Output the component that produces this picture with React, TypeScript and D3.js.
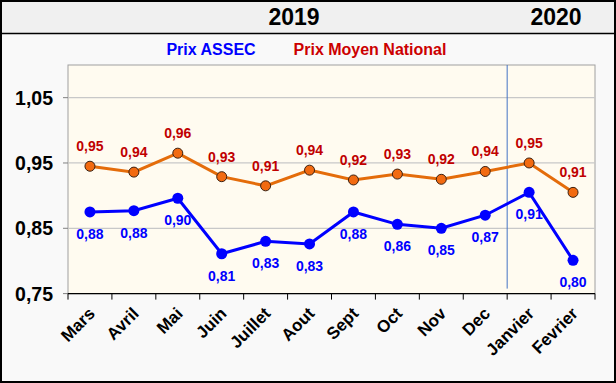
import React from "react";
import * as d3 from "d3";

const months = ["Mars", "Avril", "Mai", "Juin", "Juillet", "Aout", "Sept", "Oct", "Nov", "Dec", "Janvier", "Fevrier"];
const assec = [0.875, 0.877, 0.896, 0.811, 0.83, 0.826, 0.875, 0.856, 0.85, 0.87, 0.905, 0.801];
const assecLabels = ["0,88", "0,88", "0,90", "0,81", "0,83", "0,83", "0,88", "0,86", "0,85", "0,87", "0,91", "0,80"];
const national = [0.945, 0.936, 0.965, 0.929, 0.915, 0.939, 0.924, 0.933, 0.925, 0.937, 0.95, 0.905];
const nationalLabels = ["0,95", "0,94", "0,96", "0,93", "0,91", "0,94", "0,92", "0,93", "0,92", "0,94", "0,95", "0,91"];
const yTicks = [0.75, 0.85, 0.95, 1.05];
const yTickLabels = ["0,75", "0,85", "0,95", "1,05"];
const years = ["2019", "2020"];

export default function App() {
  const W = 616, H = 383;
  const left = 68, right = 595, top = 65, bottom = 293.6;
  const x = d3.scaleBand<string>().domain(months).range([left, right]);
  const y = d3.scaleLinear().domain([0.75, 1.1]).range([bottom, top]);
  const cx = (m: string) => (x(m) as number) + x.bandwidth() / 2;
  const line = d3.line<number>().x((_, i) => cx(months[i])).y((d) => y(d));
  const font = "Arial, 'Liberation Sans', sans-serif";
  const sepX = x("Janvier") as number;

  return (
    <svg width={W} height={H} style={{ position: "absolute", left: 0, top: 0 }} fontFamily={font}>
      <rect x={0} y={0} width={W} height={H} fill="#f9f9f9" />
      <rect x={0} y={0} width={W} height={33} fill="#f0f0f0" />
      <line x1={0} x2={W} y1={33.5} y2={33.5} stroke="#000" strokeWidth={1.5} />
      <rect x={1} y={1} width={W - 2} height={H - 2} fill="none" stroke="#000" strokeWidth={2} />
      <text x={294} y={25} textAnchor="middle" fontSize={23} fontWeight="bold">{years[0]}</text>
      <text x={556} y={25} textAnchor="middle" fontSize={23} fontWeight="bold">{years[1]}</text>

      <text x={211} y={55} textAnchor="middle" fontSize={16} fontWeight="bold" fill="#0000ff">Prix ASSEC</text>
      <text x={370} y={55} textAnchor="middle" fontSize={16} fontWeight="bold" fill="#cc0000">Prix Moyen National</text>

      <rect x={left} y={top} width={right - left} height={bottom - top} fill="#fffbf0" stroke="#a0a0a0" strokeWidth={1} />
      {yTicks.slice(1).map((t) => (
        <line key={t} x1={left} x2={right} y1={y(t)} y2={y(t)} stroke="#c8c8c8" strokeWidth={1.2} />
      ))}
      {yTicks.map((t, i) => (
        <g key={"yl" + t}>
          <line x1={left - 5} x2={left} y1={y(t)} y2={y(t)} stroke="#808080" />
          <text x={53} y={y(t) + 7} textAnchor="end" fontSize={19.5} fontWeight="bold">{yTickLabels[i]}</text>
        </g>
      ))}
      <line x1={sepX} x2={sepX} y1={top} y2={bottom - 5} stroke="#4472c4" strokeWidth={1} />
      <line x1={left} x2={right} y1={bottom} y2={bottom} stroke="#000" strokeWidth={1.2} />
      {months.concat([""]).map((m, i) => {
        const xx = left + i * x.bandwidth();
        return <line key={"t" + i} x1={xx} x2={xx} y1={bottom} y2={bottom + 6} stroke="#000" />;
      })}
      {months.map((m) => (
        <text key={"xl" + m} transform={`translate(${cx(m) + 6},${bottom + 21}) rotate(-45)`} textAnchor="end" fontSize={17} fontWeight="bold">{m}</text>
      ))}

      <path d={line(national) || ""} fill="none" stroke="#e46c0a" strokeWidth={3} />
      {national.map((v, i) => (
        <circle key={"n" + i} cx={cx(months[i])} cy={y(v)} r={5} fill="#f26a10" stroke="#3a2010" strokeWidth={1} />
      ))}
      <path d={line(assec) || ""} fill="none" stroke="#0000ff" strokeWidth={3} />
      {assec.map((v, i) => (
        <circle key={"a" + i} cx={cx(months[i])} cy={y(v)} r={5.5} fill="#0000ff" />
      ))}
      {national.map((v, i) => (
        <text key={"nl" + i} x={cx(months[i])} y={y(v) - 15} textAnchor="middle" fontSize={14} fontWeight="bold" fill="#c00000">{nationalLabels[i]}</text>
      ))}
      {assec.map((v, i) => (
        <text key={"al" + i} x={cx(months[i])} y={y(v) + 27} textAnchor="middle" fontSize={14} fontWeight="bold" fill="#0000ff">{assecLabels[i]}</text>
      ))}
    </svg>
  );
}
